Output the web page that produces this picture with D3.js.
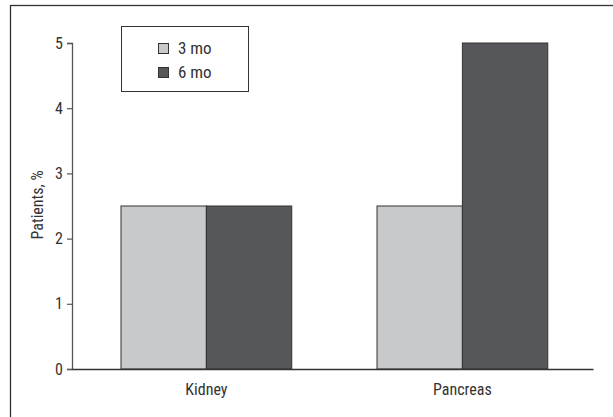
<!DOCTYPE html>
<html><head><meta charset="utf-8">
<script src="https://cdn.jsdelivr.net/npm/d3@7"></script>
<style>
body{margin:0;background:#fff;}
text{font-family:"Liberation Sans Narrow","Arial Narrow","Roboto Condensed","Liberation Sans",sans-serif;fill:#333;}
</style></head>
<body><svg id="c" width="613" height="417"></svg>
<script>
const categories = ["Kidney", "Pancreas"];
const seriesNames = ["3 mo", "6 mo"];
const values3mo = [2.5, 2.5];
const values6mo = [2.5, 5];
const yTicks = [0, 1, 2, 3, 4, 5];
const colors = ["#c8c9cb", "#56575b"];

const svg = d3.select("#c");
// outer frame (cropped on right/bottom)
svg.append("rect").attr("x",10.5).attr("y",5.5).attr("width",700).attr("height",500)
  .attr("fill","none").attr("stroke","#333").attr("stroke-width",1.3);

const x0 = 72, x1 = 593, yTop = 43, yBot = 369;
const x = d3.scaleBand().domain(categories).range([x0, x1]).paddingInner(0.333).paddingOuter(0.184).align(0.52);
const xs = d3.scaleBand().domain(seriesNames).range([0, x.bandwidth()]);
const y = d3.scaleLinear().domain([0,5]).range([yBot, yTop]);

const data = categories.map((c,i)=>({cat:c, vals:[values3mo[i], values6mo[i]]}));
const g = svg.append("g");
data.forEach(d=>{
  d.vals.forEach((v,j)=>{
    g.append("rect")
      .attr("x", x(d.cat)+xs(seriesNames[j]))
      .attr("y", y(v))
      .attr("width", xs.bandwidth())
      .attr("height", y(0)-y(v))
      .attr("fill", colors[j]).attr("stroke","#333").attr("stroke-width",1);
  });
});

// y axis
const ya = svg.append("g").attr("transform",`translate(${x0},0)`)
  .call(d3.axisLeft(y).tickValues(yTicks).tickSize(5).tickPadding(4).tickFormat(d3.format("d")));
ya.select(".domain").attr("stroke","#555").attr("stroke-width",1.3);
ya.selectAll(".tick line").attr("stroke","#555").attr("stroke-width",1.2);
ya.selectAll(".tick text").style("font-size","16px").attr("fill","#333");

// x axis
const xa = svg.append("g").attr("transform",`translate(0,${yBot})`)
  .call(d3.axisBottom(x).tickSize(0).tickPadding(15));
xa.select(".domain").attr("stroke","#333").attr("stroke-width",1.5);
xa.selectAll(".tick text").style("font-size","16px").attr("fill","#333");

// y label
svg.append("text").attr("transform","translate(43,205) rotate(-90)")
  .attr("text-anchor","middle").style("font-size","16px").text("Patients, %");

// legend
svg.append("rect").attr("x",121.5).attr("y",26.5).attr("width",127).attr("height",65)
  .attr("fill","#fff").attr("stroke","#333").attr("stroke-width",1);
seriesNames.forEach((s,i)=>{
  svg.append("rect").attr("x",158.5).attr("y",43.5+i*24).attr("width",10).attr("height",10)
    .attr("fill",colors[i]).attr("stroke","#333").attr("stroke-width",1);
  svg.append("text").attr("x",178).attr("y",54+i*24).style("font-size","17px").text(s);
});
</script></body></html>
